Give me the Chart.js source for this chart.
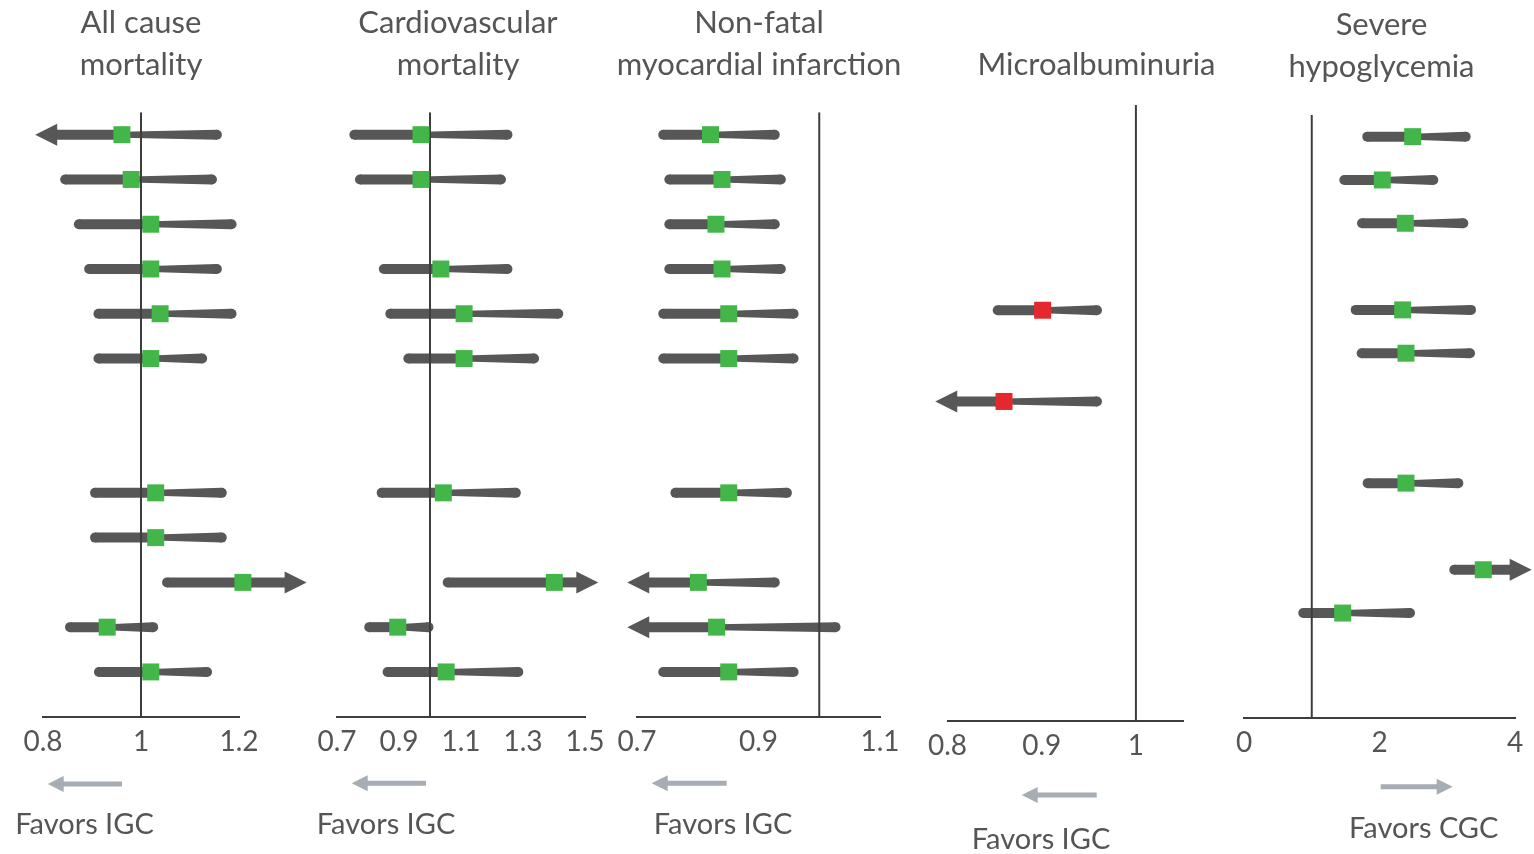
<!DOCTYPE html>
<html>
<head>
<meta charset="utf-8">
<script src="https://cdn.jsdelivr.net/npm/chart.js@4.4.1/dist/chart.umd.min.js"></script>
<style>
  html, body { margin: 0; padding: 0; background: #fff; }
  #wrap { position: relative; width: 1534px; height: 854px; overflow: hidden;
          font-family: Lato, "Open Sans", sans-serif; color: #555; }
  #wrap canvas { position: absolute; left: 0; top: 0; }
  .txt { position: absolute; transform: translateX(-50%); white-space: nowrap;
         text-align: center; font-size: 29px; line-height: 42px; color: #555; }
  .txt.title { font-size: 31px; }
</style>
</head>
<body>
<div id="wrap"></div>
<script>
// ---------- data ----------
const panelTitles = [
  ["All cause", "mortality"],
  ["Cardiovascular", "mortality"],
  ["Non-fatal", "myocardial infarction"],
  ["Microalbuminuria"],
  ["Severe", "hypoglycemia"]
];
const favorsLabels = ["Favors IGC", "Favors IGC", "Favors IGC", "Favors IGC", "Favors CGC"];

// row slot (0 = top), lower CI, estimate, upper CI, truncated side
const allCauseRows  = [0, 1, 2, 3, 4, 5, 8, 9, 10, 11, 12];
const allCauseLow   = [0.784, 0.835, 0.863, 0.884, 0.903, 0.903, 0.896, 0.896, 1.043, 0.845, 0.904];
const allCauseEst   = [0.961, 0.980, 1.020, 1.020, 1.039, 1.020, 1.030, 1.030, 1.208, 0.931, 1.020];
const allCauseHigh  = [1.165, 1.155, 1.195, 1.165, 1.195, 1.135, 1.175, 1.175, 1.338, 1.035, 1.145];
const allCauseArrow = ["L", "", "", "", "", "", "", "", "R", "", ""];
const allCauseTicks = [0.8, 1, 1.2];
const allCauseTickLabels = ["0.8", "1", "1.2"];

const cardioRows  = [0, 1, 3, 4, 5, 8, 10, 11, 12];
const cardioLow   = [0.740, 0.758, 0.835, 0.856, 0.914, 0.828, 1.041, 0.788, 0.847];
const cardioEst   = [0.971, 0.971, 1.035, 1.110, 1.110, 1.043, 1.401, 0.896, 1.052];
const cardioHigh  = [1.266, 1.245, 1.266, 1.430, 1.352, 1.293, 1.543, 1.011, 1.301];
const cardioArrow = ["", "", "", "", "", "", "R", "", ""];
const cardioTicks = [0.7, 0.9, 1.1, 1.3, 1.5];
const cardioTickLabels = ["0.7", "0.9", "1.1", "1.3", "1.5"];

const miRows  = [0, 1, 2, 3, 4, 5, 8, 10, 11, 12];
const miLow   = [0.735, 0.745, 0.745, 0.745, 0.735, 0.735, 0.755, 0.684, 0.684, 0.735];
const miEst   = [0.821, 0.840, 0.830, 0.840, 0.851, 0.851, 0.851, 0.801, 0.831, 0.851];
const miHigh  = [0.935, 0.945, 0.935, 0.945, 0.966, 0.966, 0.955, 0.935, 1.035, 0.966];
const miArrow = ["", "", "", "", "", "", "", "L", "L", ""];
const miTicks = [0.7, 0.9, 1.1];
const miTickLabels = ["0.7", "0.9", "1.1"];

const microRows  = [4, 6];
const microLow   = [0.848, 0.787];
const microEst   = [0.901, 0.860];
const microHigh  = [0.964, 0.964];
const microArrow = ["", "L"];
const microTicks = [0.8, 0.9, 1];
const microTickLabels = ["0.8", "0.9", "1"];

const hypoRows  = [0, 1, 2, 4, 5, 8, 10, 11];
const hypoLow   = [1.746, 1.407, 1.668, 1.575, 1.663, 1.752, 3.030, 0.801];
const hypoEst   = [2.490, 2.041, 2.381, 2.342, 2.391, 2.391, 3.532, 1.457];
const hypoHigh  = [3.346, 2.868, 3.311, 3.424, 3.410, 3.237, 4.246, 2.524];
const hypoArrow = ["", "", "", "", "", "", "R", ""];
const hypoTicks = [0, 2, 4];
const hypoTickLabels = ["0", "2", "4"];

// ---------- panel layout (pixels) and styling ----------
const W = 1534, H = 854, AXIS_BOX = 40;
const panels = [
  { rows: allCauseRows, low: allCauseLow, est: allCauseEst, high: allCauseHigh, arrow: allCauseArrow,
    ticks: allCauseTicks, tickLabels: allCauseTickLabels, xMin: 0.8, xMax: 1.2,
    left: 43, right: 239, top: 112.3, axisY: 716.7, yMax: 13, marker: "#43b649",
    titleX: 141, titleTop: 0, hint: { dir: "L", a: 47.7, b: 122, y: 784 }, favX: 84.5, favTop: 802 },
  { rows: cardioRows, low: cardioLow, est: cardioEst, high: cardioHigh, arrow: cardioArrow,
    ticks: cardioTicks, tickLabels: cardioTickLabels, xMin: 0.7, xMax: 1.5,
    left: 337, right: 585, top: 112.3, axisY: 716.7, yMax: 13, marker: "#43b649",
    titleX: 458, titleTop: 0, hint: { dir: "L", a: 351.7, b: 426, y: 783.3 }, favX: 386, favTop: 802 },
  { rows: miRows, low: miLow, est: miEst, high: miHigh, arrow: miArrow,
    ticks: miTicks, tickLabels: miTickLabels, xMin: 0.7, xMax: 1.1,
    left: 637, right: 880, top: 112.3, axisY: 716.7, yMax: 13, marker: "#43b649",
    titleX: 759, titleTop: 0, hint: { dir: "L", a: 651.7, b: 726.7, y: 783.3 }, favX: 723, favTop: 802 },
  { rows: microRows, low: microLow, est: microEst, high: microHigh, arrow: microArrow,
    ticks: microTicks, tickLabels: microTickLabels, xMin: 0.8, xMax: 1.05,
    left: 947.5, right: 1183, top: 105, axisY: 720.7, yMax: 13, marker: "#e5282c",
    titleX: 1096.5, titleTop: 42, hint: { dir: "L", a: 1021.7, b: 1096.7, y: 795 }, favX: 1041, favTop: 817 },
  { rows: hypoRows, low: hypoLow, est: hypoEst, high: hypoHigh, arrow: hypoArrow,
    ticks: hypoTicks, tickLabels: hypoTickLabels, xMin: 0, xMax: 4,
    left: 1244, right: 1515, top: 115, axisY: 718.3, yMax: 13.43, marker: "#43b649",
    titleX: 1381.5, titleTop: 2, hint: { dir: "R", a: 1452.7, b: 1380.7, y: 786.7 }, favX: 1423.7, favTop: 806 }
];

const CI_COLOR = "#575757";
const AXIS_COLOR = "#3d3d3d";
const HINT_COLOR = "#a6adb4";

// Confidence interval: thick left arm, tapered right arm, arrow head when truncated
function drawWhisker(ctx, lo, mid, hi, y, dir) {
  const R = 5, THIN = 3, HEAD = 22, HH = 11;
  const piece = (fn) => { ctx.beginPath(); fn(); ctx.fill(); };
  if (dir === "L") {
    piece(() => { ctx.moveTo(lo, y); ctx.lineTo(lo + HEAD, y - HH); ctx.lineTo(lo + HEAD, y + HH); ctx.closePath(); });
    piece(() => ctx.rect(lo + HEAD - 1, y - R, mid - (lo + HEAD - 1), 2 * R));
  } else {
    piece(() => ctx.arc(lo + R, y, R, 0, Math.PI * 2));
    piece(() => ctx.rect(lo + R, y - R, mid - lo - R, 2 * R));
  }
  if (dir === "R") {
    piece(() => ctx.rect(mid, y - R, hi - HEAD + 1 - mid, 2 * R));
    piece(() => { ctx.moveTo(hi, y); ctx.lineTo(hi - HEAD, y - HH); ctx.lineTo(hi - HEAD, y + HH); ctx.closePath(); });
  } else {
    piece(() => { ctx.moveTo(mid, y - THIN); ctx.lineTo(hi - R, y - R); ctx.lineTo(hi - R, y + R); ctx.lineTo(mid, y + THIN); ctx.closePath(); });
    piece(() => ctx.arc(hi - R, y, R, 0, Math.PI * 2));
  }
}

const whiskerPlugin = {
  id: "whiskers",
  beforeDatasetDraw(chart, args) {
    const ds = chart.data.datasets[args.index];
    if (!ds.whisker) return;
    const xs = chart.scales.x;
    const ctx = chart.ctx;
    ctx.save();
    ctx.fillStyle = CI_COLOR;
    args.meta.data.forEach((bar, i) => {
      const p = bar.getProps(["x", "y", "base"], true);
      drawWhisker(ctx, Math.min(p.base, p.x), xs.getPixelForValue(ds.estimates[i]), Math.max(p.base, p.x), p.y, ds.arrows[i]);
    });
    ctx.restore();
    return false;
  }
};

// Grey "favours" direction arrow under each axis
const hintPlugin = {
  id: "hint",
  afterDraw(chart, args, opts) {
    if (!opts || !opts.dir) return;
    const ctx = chart.ctx;
    const tip = opts.a, tail = opts.b, y = opts.y;
    const s = tip < tail ? 1 : -1;
    const HEAD = 16, HH = 8, T = 2.5;
    ctx.save();
    ctx.fillStyle = HINT_COLOR;
    ctx.beginPath();
    ctx.rect(Math.min(tip + s * (HEAD - 1), tail), y - T, Math.abs(tail - (tip + s * (HEAD - 1))), 2 * T);
    ctx.fill();
    ctx.beginPath();
    ctx.moveTo(tip, y);
    ctx.lineTo(tip + s * HEAD, y - HH);
    ctx.lineTo(tip + s * HEAD, y + HH);
    ctx.closePath();
    ctx.fill();
    ctx.restore();
  }
};

const wrap = document.getElementById("wrap");

function addText(text, x, top, cls) {
  const d = document.createElement("div");
  d.className = "txt" + (cls ? " " + cls : "");
  d.style.left = x + "px";
  d.style.top = top + "px";
  d.textContent = text;
  wrap.appendChild(d);
}

panels.forEach((p) => {
  const canvas = document.createElement("canvas");
  canvas.width = W; canvas.height = H;
  canvas.style.width = W + "px"; canvas.style.height = H + "px";
  wrap.appendChild(canvas);

  new Chart(canvas, {
    type: "bar",
    data: {
      datasets: [
        {
          type: "scatter",
          data: p.rows.map((r, i) => ({ x: p.est[i], y: r })),
          pointStyle: "rect",
          pointRadius: 12,
          pointBorderWidth: 0,
          backgroundColor: p.marker,
          borderColor: p.marker,
          clip: false,
          order: 0
        },
        {
          type: "line",
          data: [{ x: 1, y: -0.5 }, { x: 1, y: p.yMax }],
          borderColor: AXIS_COLOR,
          borderWidth: 2,
          pointRadius: 0,
          order: 1
        },
        {
          type: "bar",
          indexAxis: "y",
          data: p.rows.map((r, i) => ({ y: r, x: [p.low[i], p.high[i]] })),
          barThickness: 10,
          backgroundColor: CI_COLOR,
          whisker: true,
          estimates: p.est,
          arrows: p.arrow,
          clip: false,
          order: 2
        }
      ]
    },
    options: {
      responsive: false,
      animation: false,
      devicePixelRatio: 1,
      events: [],
      layout: { padding: { left: p.left, right: W - p.right, top: p.top, bottom: H - AXIS_BOX - p.axisY } },
      plugins: { legend: { display: false }, tooltip: { enabled: false }, hint: p.hint },
      scales: {
        x: {
          type: "linear",
          offset: false,
          min: p.xMin, max: p.xMax,
          afterBuildTicks: (s) => { s.ticks = p.ticks.map((v) => ({ value: v })); },
          afterFit: (s) => { s.height = AXIS_BOX; },
          ticks: {
            callback: (v, i) => p.tickLabels[i],
            autoSkip: false, maxRotation: 0,
            color: "#555", padding: 8,
            font: { family: "Lato", size: 28 }
          },
          grid: { display: false, drawTicks: false, offset: false },
          border: { display: true, color: AXIS_COLOR, width: 2 }
        },
        y: { type: "linear", offset: false, reverse: true, min: -0.5, max: p.yMax, display: false,
             grid: { offset: false } }
      }
    },
    plugins: [whiskerPlugin, hintPlugin]
  });
});

panels.forEach((p, i) => {
  panelTitles[i].forEach((line, j) => addText(line, p.titleX, p.titleTop + j * 42, "title"));
  addText(favorsLabels[i], p.favX, p.favTop);
});
</script>
</body>
</html>
